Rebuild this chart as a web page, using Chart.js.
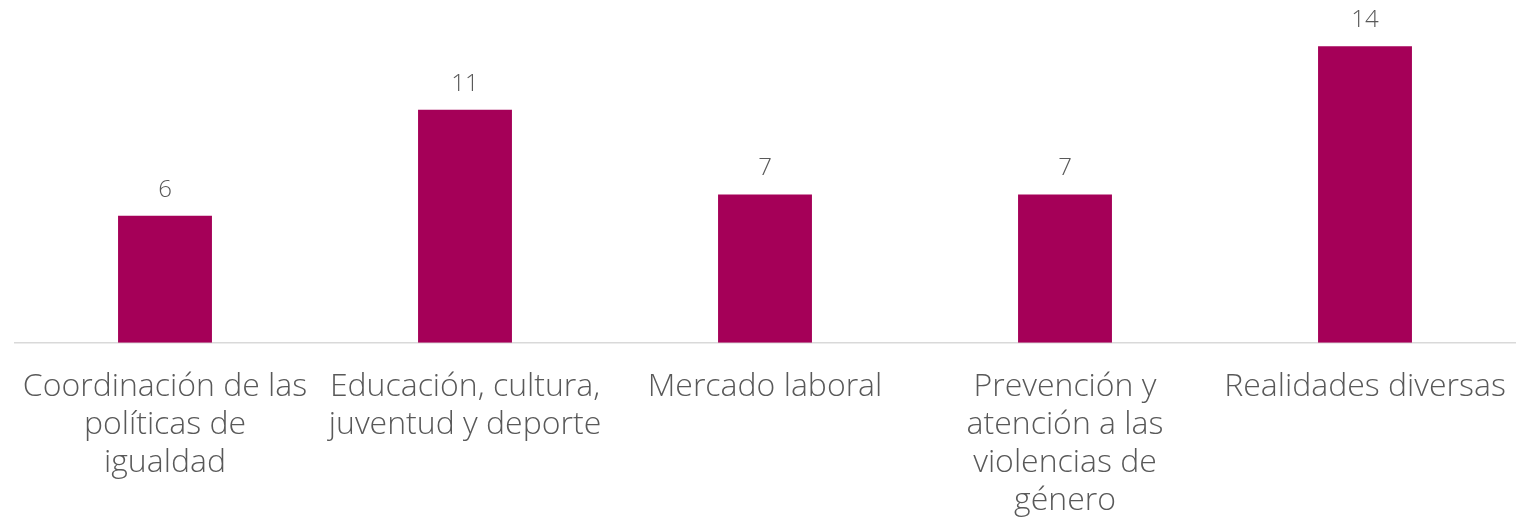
<!DOCTYPE html>
<html>
<head>
<meta charset="utf-8">
<script src="https://cdn.jsdelivr.net/npm/chart.js@4"></script>
<style>
html,body{margin:0;padding:0;background:#fff;}
#wrap{width:1530px;height:523px;position:relative;}
</style>
</head>
<body>
<div id="wrap"><canvas id="c"></canvas></div>
<script>
const categories = [
  ["Coordinación de las", "políticas de", "igualdad"],
  ["Educación, cultura,", "juventud y deporte"],
  ["Mercado laboral"],
  ["Prevención y", "atención a las", "violencias de", "género"],
  ["Realidades diversas"]
];
const values = [6, 11, 7, 7, 14];

const barColor = "#A50058";
const textColor = "#595959";
const fontFamily = "'Open Sans', sans-serif";

const valueLabels = {
  id: "valueLabels",
  afterDatasetsDraw(chart) {
    const ctx = chart.ctx;
    ctx.save();
    ctx.font = "300 24px " + fontFamily;
    ctx.fillStyle = textColor;
    ctx.textAlign = "center";
    ctx.textBaseline = "middle";
    chart.getDatasetMeta(0).data.forEach((bar, i) => {
      ctx.fillText(String(values[i]), bar.x, bar.y - 26);
    });
    ctx.restore();
  }
};

new Chart(document.getElementById("c"), {
  type: "bar",
  data: {
    labels: categories,
    datasets: [{
      data: values,
      backgroundColor: barColor,
      borderWidth: 0,
      barPercentage: 1,
      categoryPercentage: 0.313
    }]
  },
  options: {
    responsive: true,
    maintainAspectRatio: false,
    animation: false,
    layout: { padding: { top: 4, left: 15, right: 15, bottom: -22 } },
    plugins: { legend: { display: false }, tooltip: { enabled: false } },
    scales: {
      x: {
        afterFit(scale) { scale.paddingLeft = 0; scale.paddingRight = 0; },
        grid: { display: false, drawTicks: false },
        border: { display: true, color: "#d9d9d9", width: 1.5 },
        ticks: {
          autoSkip: false,
          maxRotation: 0,
          minRotation: 0,
          padding: 25,
          color: textColor,
          font: { family: fontFamily, size: 32, weight: 300, lineHeight: 1.19 }
        }
      },
      y: {
        display: false,
        min: 0,
        max: 16
      }
    }
  },
  plugins: [valueLabels]
});
</script>
</body>
</html>
